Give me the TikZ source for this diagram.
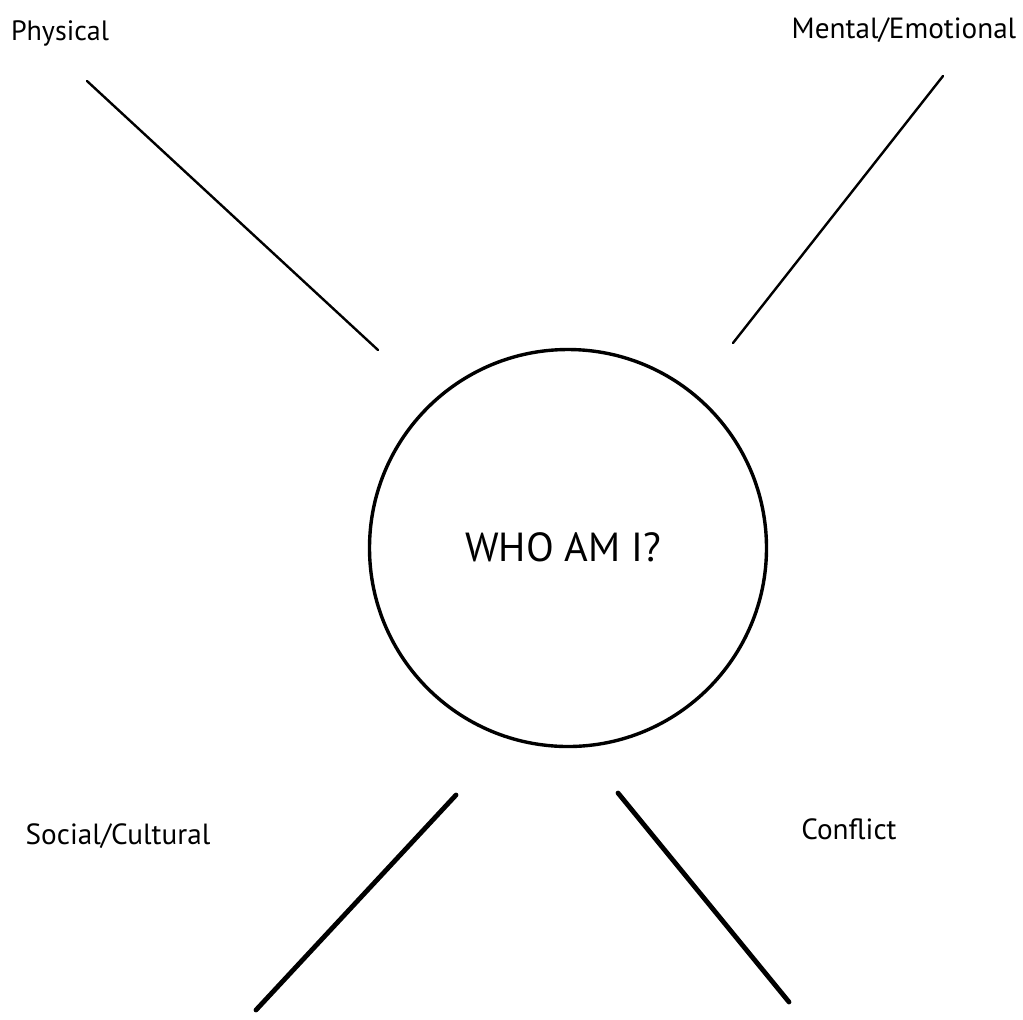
\documentclass[tikz,border=0pt]{standalone}
\usepackage{fontspec}
\setmainfont{PT Sans}
\usetikzlibrary{positioning,calc}

\begin{document}
\begin{tikzpicture}[
        x=0.5pt, y=-0.5pt,
        hub/.style={circle, draw=black, line width=1.7pt, minimum size=397*0.5pt, inner sep=0pt},
        label/.style={font=\fontsize{14.6}{17}\selectfont, inner sep=0pt},
        spoke/.style={line width=1.2pt, line cap=round},
        heavyspoke/.style={line width=2.4pt, line cap=round},
    ]
    \useasboundingbox (0,0) rectangle (1023,1019);

    % Centre circle
    \node[hub] (self) at (568,548) {};
    \node[font=\fontsize{20.3}{22}\selectfont, inner sep=0pt] (who) at (563,547) {WHO AM I?};

    % Aspect labels
    \node[label, font=\fontsize{14}{16}\selectfont] (physical) at (60,33) {Physical};
    \node[label] (mental) at (904,30) {Mental/Emotional};
    \node[label] (social) at (118,836) {Social/Cultural};
    \node[label] (conflict) at (849,829) {Conflict};

    % Line ends
    \coordinate (phyA) at (87,81);
    \coordinate (phyB) at (378,350);
    \coordinate (menA) at (943,76);
    \coordinate (menB) at (733,343);
    \coordinate (socA) at (456,795);
    \coordinate (socB) at (256,1010);
    \coordinate (conA) at (618,793);
    \coordinate (conB) at (789,1002);

    % Spokes
    \draw[spoke] (phyA) -- (phyB);
    \draw[spoke] (menA) -- (menB);
    \draw[heavyspoke] (socA) -- (socB);
    \draw[heavyspoke] (conA) -- (conB);

\end{tikzpicture}
\end{document}
